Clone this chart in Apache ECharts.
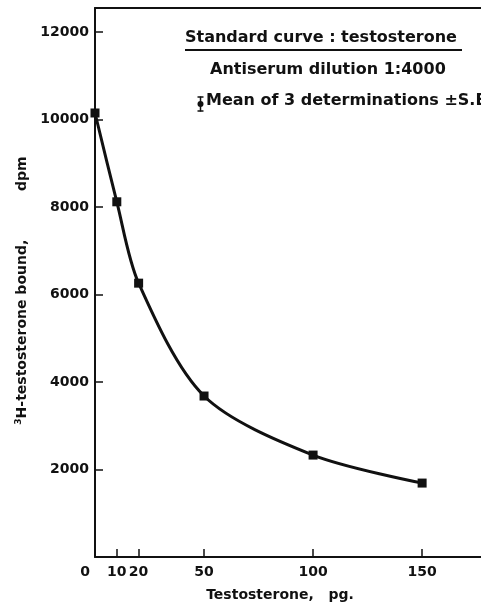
<!DOCTYPE html>
<html>
<head>
<meta charset="utf-8">
<script src="https://cdn.jsdelivr.net/npm/echarts@6/dist/echarts.min.js"></script>
<style>
  html, body { margin: 0; padding: 0; background: #fff; }
  #chart { width: 481px; height: 607px; }
</style>
</head>
<body>
<div id="chart"></div>
<script>
// testosterone amount (pg) vs bound 3H-testosterone (dpm)
const doses = [0, 10, 20, 50, 100, 150]
const bound = [10150, 8120, 6260, 3680, 2330, 1690]
const xTickLabels = [0, 10, 20, 50, 100, 150]
const yTickLabels = [2000, 4000, 6000, 8000, 10000, 12000]

const ink = '#111'
const font = 'DejaVu Sans'
const labelStyle = { color: ink, fontFamily: font, fontWeight: 'bold', fontSize: 14 }

const chart = echarts.init(document.getElementById('chart'))

const option = {
  backgroundColor: '#fff',
  animation: false,
  grid: { left: 95, right: 0, top: 8, bottom: 50 },
  xAxis: [
    {
      type: 'value',
      min: 0,
      max: 177,
      name: 'Testosterone,   pg.',
      nameLocation: 'middle',
      nameGap: 31,
      nameTextStyle: { ...labelStyle, padding: [0, 16, 0, 0] },
      axisLine: { show: true, lineStyle: { color: ink, width: 2 } },
      axisTick: { show: true, inside: true, length: 8, customValues: xTickLabels, lineStyle: { color: ink, width: 1.5 } },
      axisLabel: {
        ...labelStyle,
        customValues: xTickLabels,
        margin: 8,
        // the zero label sits a little left of the axis corner
        formatter: v => (v === 0 ? '{z|0}' : String(v)),
        rich: { z: { ...labelStyle, padding: [0, 20, 0, 0] } },
      },
      splitLine: { show: false },
    },
    {
      type: 'value',
      position: 'top',
      min: 0,
      max: 177,
      axisLine: { show: true, lineStyle: { color: ink, width: 2 } },
      axisTick: { show: false },
      axisLabel: { show: false },
      splitLine: { show: false },
    },
  ],
  yAxis: {
    type: 'value',
    min: 0,
    max: 12550,
    interval: 2000,
    name: '{sup|3}H-testosterone bound,          dpm',
    nameLocation: 'middle',
    nameRotate: 90,
    nameGap: 56,
    nameTextStyle: {
      ...labelStyle,
      padding: [0, 16, 0, 0],
      rich: {
        sup: { fontSize: 9, fontWeight: 'bold', fontFamily: font, color: ink, verticalAlign: 'top', padding: [0, 0, 8, 0] },
      },
    },
    axisLine: { show: true, lineStyle: { color: ink, width: 2 } },
    axisTick: { show: true, inside: true, length: 8, customValues: yTickLabels, lineStyle: { color: ink, width: 1.5 } },
    axisLabel: { ...labelStyle, customValues: yTickLabels, margin: 6, formatter: v => String(v) },
    splitLine: { show: false },
  },
  series: [
    {
      type: 'line',
      data: doses.map((d, i) => [d, bound[i]]),
      smooth: 0.3,
      symbol: 'rect',
      symbolSize: 9,
      itemStyle: { color: ink },
      lineStyle: { color: ink, width: 3 },
    },
  ],
  graphic: [
    {
      type: 'text',
      left: 185,
      top: 30,
      style: { text: 'Standard curve : testosterone', fill: ink, font: 'bold 16px "DejaVu Sans"' },
    },
    {
      type: 'line',
      shape: { x1: 185, y1: 50, x2: 462, y2: 50 },
      style: { stroke: ink, lineWidth: 2 },
    },
    {
      type: 'text',
      left: 210,
      top: 62,
      style: { text: 'Antiserum dilution 1:4000', fill: ink, font: 'bold 16px "DejaVu Sans"' },
    },
    {
      type: 'group',
      left: 195,
      top: 94,
      children: [
        { type: 'line', shape: { x1: 4, y1: 0, x2: 4, y2: 15 }, style: { stroke: ink, lineWidth: 1.5 } },
        { type: 'line', shape: { x1: 1, y1: 0.5, x2: 7, y2: 0.5 }, style: { stroke: ink, lineWidth: 1.5 } },
        { type: 'line', shape: { x1: 1, y1: 14.5, x2: 7, y2: 14.5 }, style: { stroke: ink, lineWidth: 1.5 } },
        { type: 'circle', shape: { cx: 4, cy: 7.5, r: 3 }, style: { fill: ink } },
      ],
    },
    {
      type: 'text',
      left: 206,
      top: 93,
      style: { text: 'Mean of 3 determinations \u00b1S.E', fill: ink, font: 'bold 16px "DejaVu Sans"' },
    },
  ],
}

chart.setOption(option)
</script>
</body>
</html>
